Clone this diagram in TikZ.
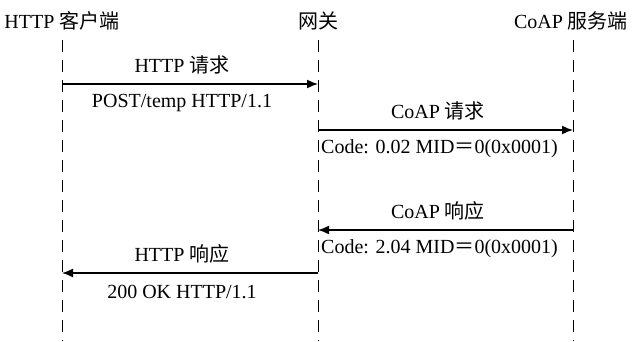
\documentclass[tikz,border=0pt]{standalone}
\usepackage{fontspec}
\setmainfont{Liberation Serif}
\newfontfamily\cjk{Noto Sans CJK SC}
\usepackage{tikz}
\usetikzlibrary{arrows.meta}

\begin{document}
\begin{tikzpicture}[x=1pt, y=-1pt, >={Latex[length=11pt,width=9pt]},
    every node/.style={font=\fontsize{20}{23}\selectfont, inner sep=0pt},
    lifeline/.style={line width=1pt, dash pattern=on 12pt off 8pt},
    msg/.style={->, line width=1.5pt}]
    \useasboundingbox (0,0) rectangle (632,341);

    % Participants
    \node[anchor=base] (client) at (62,28) {HTTP {\cjk 客户端}};
    \node[anchor=base] (gw) at (318,28) {{\cjk 网关}};
    \node[anchor=base] (server) at (571,28) {CoAP {\cjk 服务端}};

    % Lifelines
    \coordinate (ctop) at (62,40);   \coordinate (cbot) at (62,341);
    \coordinate (gtop) at (318,40);  \coordinate (gbot) at (318,341);
    \coordinate (stop) at (573,40);  \coordinate (sbot) at (573,341);
    \draw[lifeline] (ctop) -- (cbot);
    \draw[lifeline] (gtop) -- (gbot);
    \draw[lifeline] (stop) -- (sbot);

    % HTTP request
    \coordinate (m1a) at (62,84);  \coordinate (m1b) at (318,84);
    \draw[msg] (m1a) -- (m1b);
    \node[anchor=base] (m1up) at (182,72) {HTTP {\cjk 请求}};
    \node[anchor=base] (m1lo) at (182,107) {POST/temp HTTP/1.1};

    % CoAP request
    \coordinate (m2a) at (318,130);  \coordinate (m2b) at (573,130);
    \draw[msg] (m2a) -- (m2b);
    \node[anchor=base] (m2up) at (438,118) {CoAP {\cjk 请求}};
    \node[anchor=base west] (m2lo) at (321,153) {Code: 0.02 MID{\cjk ＝}0(0x0001)};

    % CoAP response
    \coordinate (m3a) at (573,230);  \coordinate (m3b) at (318,230);
    \draw[msg] (m3a) -- (m3b);
    \node[anchor=base] (m3up) at (438,218) {CoAP {\cjk 响应}};
    \node[anchor=base west] (m3lo) at (321,253) {Code: 2.04 MID{\cjk ＝}0(0x0001)};

    % HTTP response
    \coordinate (m4a) at (318,273);  \coordinate (m4b) at (62,273);
    \draw[msg] (m4a) -- (m4b);
    \node[anchor=base] (m4up) at (182,261) {HTTP {\cjk 响应}};
    \node[anchor=base] (m4lo) at (182,298) {200 OK HTTP/1.1};
\end{tikzpicture}
\end{document}
